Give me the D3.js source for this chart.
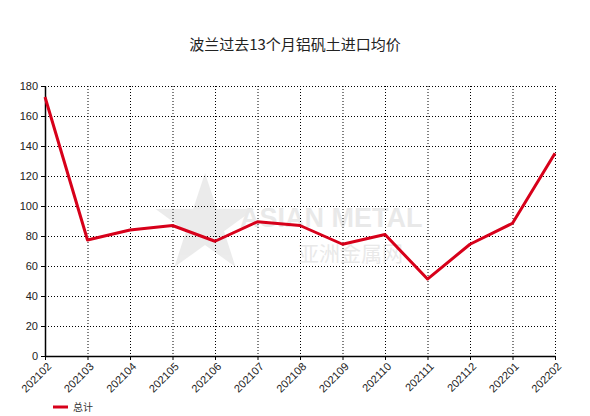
<!DOCTYPE html>
<html>
<head>
<meta charset="utf-8">
<script src="https://cdn.jsdelivr.net/npm/d3@7"></script>
<style>
  body { margin: 0; background: #fff; }
  svg { display: block; font-family: "Liberation Sans", Arial, sans-serif; }
</style>
</head>
<body>
<div id="root"></div>
<script>
const months = ["202102", "202103", "202104", "202105", "202106", "202107", "202108",
  "202109", "202110", "202111", "202112", "202201", "202202"];
const totals = [172.7, 77.3, 84, 87, 76.5, 89.5, 87, 74.5, 81, 51.3, 74.5, 88.5, 135.2];
const yTicks = [0, 20, 40, 60, 80, 100, 120, 140, 160, 180];
const title = "波兰过去13个月铝矾土进口均价";
const seriesName = "总计";

const width = 590, height = 416;
const margin = { top: 86, right: 35, bottom: 60, left: 45 };

const svg = d3.select("#root").append("svg")
  .attr("width", width).attr("height", height);

const x = d3.scalePoint().domain(months).range([margin.left, width - margin.right]);
const y = d3.scaleLinear().domain([0, 180]).range([height - margin.bottom, margin.top]);

// watermark
const wm = svg.append("g").attr("opacity", 0.55);
const star = d3.range(10).map(i => {
  const a = -Math.PI / 2 + i * Math.PI / 5;
  const r = i % 2 ? 20 : 52;
  return [205 + r * Math.cos(a), 225 + r * Math.sin(a)];
});
wm.append("path").attr("d", d3.line()(star) + "Z").attr("fill", "#dcdcdc");
wm.append("text").attr("x", 240).attr("y", 227).attr("font-size", 27)
  .attr("font-weight", "bold").attr("fill", "#d8d8d8").text("ASIAN METAL");
wm.append("text").attr("x", 298).attr("y", 261).attr("font-size", 21)
  .attr("font-family", "Noto Sans CJK SC").attr("fill", "#d8d8d8").text("亚洲金属网");

// grid
svg.append("g")
  .selectAll("line").data(yTicks.slice(1)).join("line")
  .attr("x1", margin.left).attr("x2", width - margin.right)
  .attr("y1", d => y(d) + 0.5).attr("y2", d => y(d) + 0.5)
  .attr("stroke", "#000").attr("stroke-dasharray", "1,2");
svg.append("g")
  .selectAll("line").data(months.slice(1)).join("line")
  .attr("x1", d => x(d) + 0.5).attr("x2", d => x(d) + 0.5)
  .attr("y1", margin.top).attr("y2", height - margin.bottom)
  .attr("stroke", "#000").attr("stroke-dasharray", "1,2");

// axes
const xAxis = svg.append("g")
  .attr("transform", "translate(0," + (height - margin.bottom) + ")")
  .call(d3.axisBottom(x).tickSize(4).tickSizeOuter(0));
xAxis.selectAll(".tick text")
  .attr("font-size", 11).attr("fill", "#222")
  .attr("text-anchor", "end")
  .attr("transform", "rotate(-45)")
  .attr("dx", "-0.3em").attr("dy", "0.5em");

const yAxis = svg.append("g")
  .attr("transform", "translate(" + margin.left + ",0)")
  .call(d3.axisLeft(y).tickValues(yTicks).tickSize(4).tickSizeOuter(0));
yAxis.selectAll(".tick text").attr("font-size", 11).attr("fill", "#222");
svg.selectAll(".domain").attr("stroke", "#000").attr("stroke-width", 1.5);

// line
svg.append("path")
  .datum(months.map((m, i) => [m, totals[i]]))
  .attr("fill", "none")
  .attr("stroke", "#d7001a")
  .attr("stroke-width", 3)
  .attr("stroke-linejoin", "round")
  .attr("d", d3.line().x(d => x(d[0])).y(d => y(d[1])));

// title
svg.append("text")
  .attr("x", width / 2).attr("y", 50)
  .attr("text-anchor", "middle")
  .attr("font-family", "Noto Sans CJK SC")
  .attr("font-size", 15).attr("fill", "#222")
  .text(title);

// legend
svg.append("line").attr("x1", 53).attr("x2", 68).attr("y1", 407).attr("y2", 407)
  .attr("stroke", "#d7001a").attr("stroke-width", 3);
svg.append("text").attr("x", 73).attr("y", 411)
  .attr("font-family", "Noto Sans CJK SC").attr("font-size", 10).attr("fill", "#333")
  .text(seriesName);
</script>
</body>
</html>
